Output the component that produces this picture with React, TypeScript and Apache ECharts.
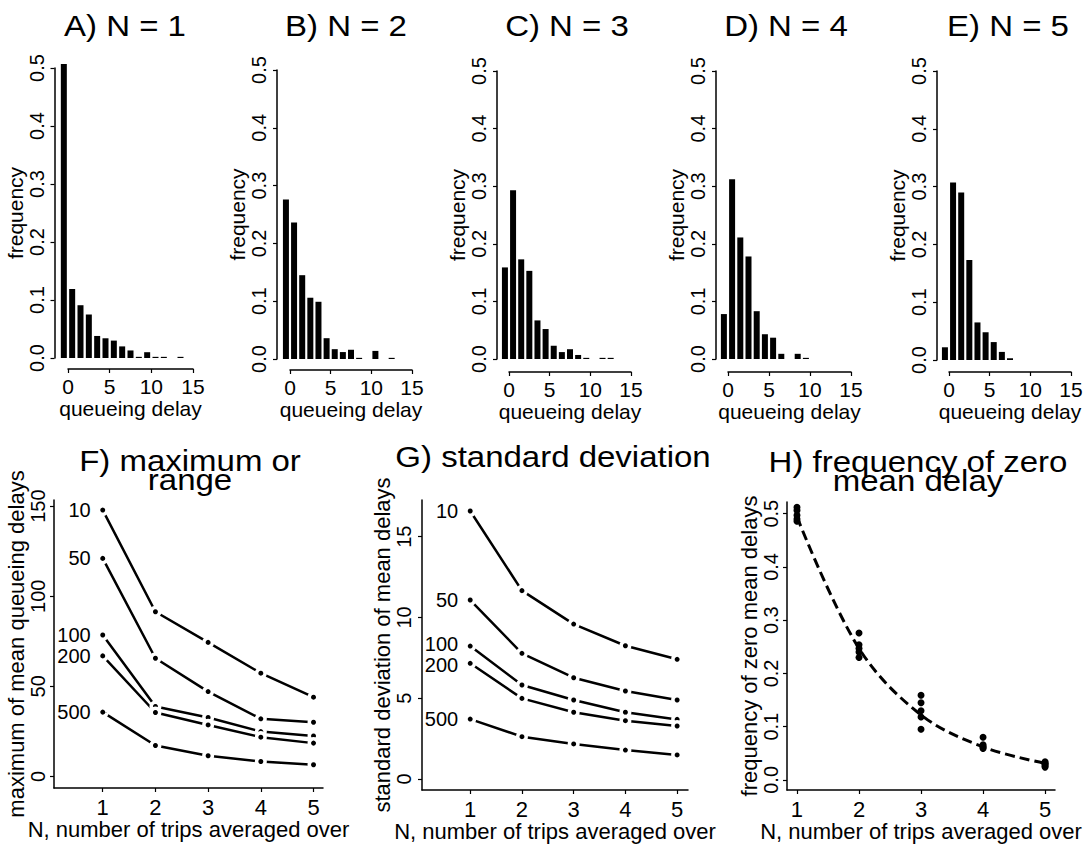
import React, { useEffect, useRef } from 'react';
import * as echarts from 'echarts';

// ---------- data ----------
// histogram bins (R hist, breaks -1:15, right-closed) -> bin midpoints
const binMids = [-0.5, 0.5, 1.5, 2.5, 3.5, 4.5, 5.5, 6.5, 7.5, 8.5, 9.5, 10.5, 11.5, 12.5, 13.5];
const freqN1 = [0.507, 0.119, 0.091, 0.075, 0.038, 0.034, 0.030, 0.020, 0.013, 0.002, 0.010, 0.002, 0.002, 0, 0.002];
const freqN2 = [0.276, 0.236, 0.145, 0.106, 0.099, 0.036, 0.017, 0.012, 0.016, 0.002, 0, 0.014, 0, 0.002, 0];
const freqN3 = [0.159, 0.293, 0.173, 0.153, 0.067, 0.052, 0.023, 0.012, 0.017, 0.007, 0.002, 0, 0.002, 0.002, 0];
const freqN4 = [0.078, 0.312, 0.211, 0.178, 0.083, 0.043, 0.037, 0.009, 0, 0.009, 0.002, 0, 0, 0, 0];
const freqN5 = [0.022, 0.307, 0.290, 0.173, 0.065, 0.048, 0.031, 0.014, 0.003, 0, 0, 0, 0, 0, 0];
const histTitles = ['A) N = 1', 'B) N = 2', 'C) N = 3', 'D) N = 4', 'E) N = 5'];
const histTicks = [0, 5, 10, 15];
const freqTicks = [0, 0.1, 0.2, 0.3, 0.4, 0.5];

const nTrips = [1, 2, 3, 4, 5];
const windowLabels = ['10', '50', '100', '200', '500'];

// F) maximum of mean queueing delays, per window size
const max10 = [147.8, 91.4, 74.4, 57.3, 44.0];
const max50 = [121.0, 65.6, 47.1, 32.0, 30.1];
const max100 = [78.5, 38.8, 32.7, 24.9, 22.5];
const max200 = [66.9, 35.5, 28.6, 21.8, 18.5];
const max500 = [35.7, 17.2, 11.5, 8.3, 6.5];
const maxTicks = [0, 50, 100, 150];

// G) standard deviation of mean delays
const sd10 = [16.59, 11.66, 9.59, 8.25, 7.41];
const sd50 = [11.08, 7.78, 6.27, 5.45, 4.89];
const sd100 = [8.23, 5.82, 4.89, 4.13, 3.69];
const sd200 = [7.16, 4.99, 4.13, 3.61, 3.28];
const sd500 = [3.71, 2.62, 2.17, 1.79, 1.49];
const sdTicks = [0, 5, 10, 15];

// H) frequency of zero mean delays
const zero10 = [0.512, 0.276, 0.159, 0.080, 0.034];
const zero50 = [0.506, 0.254, 0.145, 0.066, 0.031];
const zero100 = [0.497, 0.247, 0.130, 0.063, 0.029];
const zero200 = [0.490, 0.240, 0.118, 0.061, 0.026];
const zero500 = [0.486, 0.230, 0.095, 0.059, 0.024];
const zeroCurve = [0.494, 0.247, 0.122, 0.062, 0.031];
const zeroTicks = [0, 0.1, 0.2, 0.3, 0.4, 0.5];

// ---------- layout ----------
const FONT = '"Liberation Sans", Arial, Helvetica, sans-serif';
const BLACK = '#000';

const topLayout = [
  { left: 68, top: 68, width: 125, height: 290, xOff: 11, yOff: 13.5, tx: 125 },
  { left: 290, top: 70, width: 122, height: 289, xOff: 11, yOff: 13, tx: 346 },
  { left: 509, top: 71, width: 122, height: 288, xOff: 13, yOff: 12, tx: 567 },
  { left: 728, top: 71, width: 123, height: 288, xOff: 13, yOff: 12, tx: 786 },
  { left: 949, top: 71, width: 122, height: 289, xOff: 12, yOff: 12, tx: 1008 },
];

const bottomLayout = [
  { left: 54, top: 500, width: 269, height: 288, xMin: 0.075, xMax: 5.18, yMin: -6.4, yMax: 153.4, labelMargin: 6, nameGap: 25, dec: 0 },
  { left: 422, top: 500, width: 266, height: 290, xMin: 0.068, xMax: 5.21, yMin: -0.68, yMax: 17.27, labelMargin: 8, nameGap: 23, dec: 0 },
  { left: 787, top: 502, width: 268, height: 288, xMin: 0.839, xMax: 5.16, yMin: -0.019, yMax: 0.522, labelMargin: 6, nameGap: 25, dec: 1 },
];

function buildOption() {
  const grid: any[] = [];
  const xAxis: any[] = [];
  const yAxis: any[] = [];
  const series: any[] = [];
  const graphic: any[] = [];

  const axisLine = { show: true, onZero: false, lineStyle: { color: BLACK, width: 1.5 } };
  const axisTick = { show: true, length: 4, inside: false, lineStyle: { color: BLACK, width: 1.2 } };

  const freqs = [freqN1, freqN2, freqN3, freqN4, freqN5];
  topLayout.forEach((L, i) => {
    grid.push({ left: L.left, top: L.top, width: L.width, height: L.height, containLabel: false });
    xAxis.push({
      type: 'value', gridIndex: i, min: 0, max: 15, offset: L.xOff,
      axisLine, axisTick: { ...axisTick, customValues: histTicks },
      axisLabel: { customValues: histTicks, color: BLACK, fontSize: 21, fontFamily: FONT, margin: 7 },
      splitLine: { show: false },
      name: 'queueing delay', nameLocation: 'middle', nameGap: 27,
      nameTextStyle: { color: BLACK, fontSize: 21, fontFamily: FONT },
    });
    yAxis.push({
      type: 'value', gridIndex: i, min: 0, max: 0.5, offset: L.yOff,
      axisLine, axisTick: { ...axisTick, customValues: freqTicks },
      axisLabel: {
        customValues: freqTicks, rotate: 90, color: BLACK, fontSize: 20, fontFamily: FONT, margin: 8,
        formatter: (v: number) => v.toFixed(1),
      },
      splitLine: { show: false },
      name: 'frequency', nameLocation: 'middle', nameRotate: 90, nameGap: 24,
      nameTextStyle: { color: BLACK, fontSize: 21, fontFamily: FONT },
    });
    series.push({
      type: 'bar', xAxisIndex: i, yAxisIndex: i, clip: false, barWidth: 6,
      data: binMids.map((x, k) => [x, freqs[i][k]]),
      itemStyle: { color: BLACK },
      silent: true,
    });
    graphic.push({
      type: 'text', x: L.tx, y: 26, scaleX: 1.1,
      style: {
        text: histTitles[i], fill: BLACK, fontSize: 30, fontFamily: FONT,
        align: 'center', verticalAlign: 'middle', textAlign: 'center', textVerticalAlign: 'middle',
      },
    });
  });

  const yNames = ['maximum of mean queueing delays', 'standard deviation of mean delays', 'frequency of zero mean delays'];
  const yTicksList = [maxTicks, sdTicks, zeroTicks];
  bottomLayout.forEach((L, j) => {
    const gi = 5 + j;
    grid.push({ left: L.left, top: L.top, width: L.width, height: L.height, containLabel: false });
    xAxis.push({
      type: 'value', gridIndex: gi, min: L.xMin, max: L.xMax,
      axisLine, axisTick: { ...axisTick, customValues: nTrips },
      axisLabel: { customValues: nTrips, color: BLACK, fontSize: 22, fontFamily: FONT, margin: 8 },
      splitLine: { show: false },
      name: 'N, number of trips averaged over', nameLocation: 'middle', nameGap: 28,
      nameTextStyle: { color: BLACK, fontSize: 22, fontFamily: FONT },
    });
    yAxis.push({
      type: 'value', gridIndex: gi, min: L.yMin, max: L.yMax,
      axisLine, axisTick: { ...axisTick, customValues: yTicksList[j] },
      axisLabel: {
        customValues: yTicksList[j], rotate: 90, color: BLACK, fontSize: 20, fontFamily: FONT, margin: L.labelMargin,
        formatter: (v: number) => v.toFixed(L.dec),
      },
      splitLine: { show: false },
      name: yNames[j], nameLocation: 'middle', nameRotate: 90, nameGap: L.nameGap,
      nameTextStyle: { color: BLACK, fontSize: 22, fontFamily: FONT },
    });
  });

  const lineSeries = (gi: number, arrs: number[][], offsets: number[]) => {
    arrs.forEach((arr, k) => {
      series.push({
        type: 'line', xAxisIndex: gi, yAxisIndex: gi, name: windowLabels[k],
        data: nTrips.map((n, m) => [n, arr[m]]),
        symbol: 'circle', symbolSize: 8.5, showSymbol: true,
        lineStyle: { color: BLACK, width: 2.5 },
        itemStyle: { color: BLACK, borderColor: '#fff', borderWidth: 3.5 },
        label: {
          show: true, position: 'left', distance: 6, color: BLACK, fontSize: 20, fontFamily: FONT,
          offset: [0, offsets[k]],
          formatter: (p: any) => (p.dataIndex === 0 ? windowLabels[k] : ''),
        },
        silent: true,
      });
    });
  };
  lineSeries(5, [max10, max50, max100, max200, max500], [0, 0, 0, 0, 0]);
  lineSeries(6, [sd10, sd50, sd100, sd200, sd500], [0, 0, -2, 2, 0]);

  [zero10, zero50, zero100, zero200, zero500].forEach((arr, k) => {
    series.push({
      type: 'scatter', xAxisIndex: 7, yAxisIndex: 7, name: windowLabels[k],
      data: nTrips.map((n, m) => [n, arr[m]]),
      symbol: 'circle', symbolSize: 7, itemStyle: { color: BLACK, opacity: 1 }, silent: true,
    });
  });
  series.push({
    type: 'line', xAxisIndex: 7, yAxisIndex: 7, smooth: 0.35, showSymbol: false,
    data: nTrips.map((n, m) => [n, zeroCurve[m]]),
    lineStyle: { color: BLACK, width: 3, type: [10, 5] },
    silent: true,
  });

  const bottomTitles = [
    { text: 'F) maximum or\nrange', x: 190, y: 470 },
    { text: 'G) standard deviation', x: 553, y: 457 },
    { text: 'H) frequency of zero\nmean delay', x: 918, y: 471.5 },
  ];
  bottomTitles.forEach((t) => {
    graphic.push({
      type: 'text', x: t.x, y: t.y, scaleX: 1.1,
      style: {
        text: t.text, fill: BLACK, fontSize: 30, fontFamily: FONT, lineHeight: 19,
        align: 'center', verticalAlign: 'middle', textAlign: 'center', textVerticalAlign: 'middle',
      },
    });
  });

  return {
    animation: false,
    backgroundColor: '#fff',
    textStyle: { fontFamily: FONT, color: BLACK },
    grid, xAxis, yAxis, series, graphic,
  };
}

export default function App() {
  const ref = useRef<HTMLDivElement>(null);
  useEffect(() => {
    document.body.style.margin = '0';
    if (!ref.current) return;
    const chart = echarts.init(ref.current, undefined, { renderer: 'svg' });
    chart.setOption(buildOption() as any);
    return () => chart.dispose();
  }, []);
  return <div ref={ref} style={{ width: 1086, height: 844, background: '#fff' }} />;
}
